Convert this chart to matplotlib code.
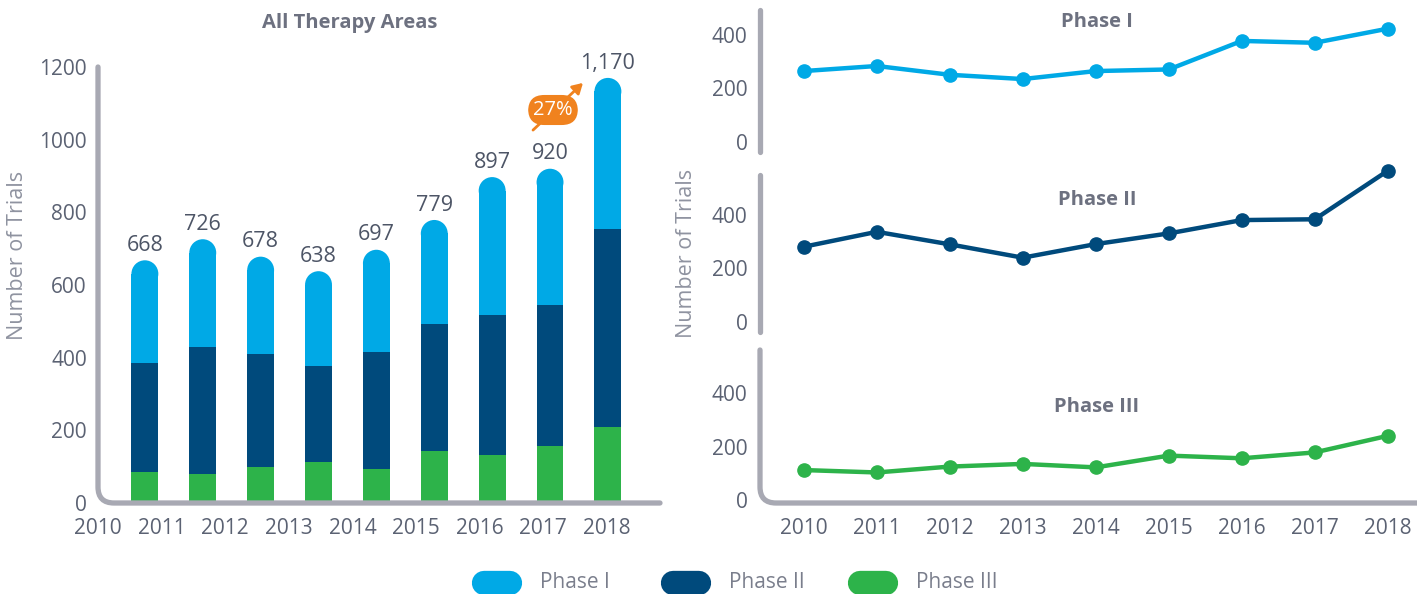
import numpy as np
import matplotlib
matplotlib.use("Agg")
import matplotlib.pyplot as plt
from matplotlib.path import Path
from matplotlib.patches import PathPatch, Ellipse
from matplotlib.lines import Line2D

plt.rcParams['font.family'] = ['Open Sans', 'DejaVu Sans']

years = [2010, 2011, 2012, 2013, 2014, 2015, 2016, 2017, 2018]
totals = [668, 726, 678, 638, 697, 779, 897, 920, 1170]
total_labels = ['668', '726', '678', '638', '697', '779', '897', '920', '1,170']
bar_phase3 = [85, 80, 99, 113, 93, 143, 132, 157, 209]
bar_phase2 = [299, 348, 311, 264, 323, 349, 386, 388, 546]
bar_phase1 = [284, 298, 268, 261, 281, 287, 379, 375, 415]

line_phase1 = [265, 284, 251, 235, 265, 271, 378, 371, 424]
line_phase2 = [281, 337, 290, 240, 291, 331, 381, 384, 566]
line_phase3 = [112, 103, 125, 135, 122, 166, 156, 178, 240]

C1 = '#00a9e6'
C2 = '#004a7c'
C3 = '#2db34a'
GREY = '#a8a9b3'
TXT = '#5b6273'
TITLE = '#6d7180'
ORANGE = '#f0821e'

W, H = 1417, 594
fig = plt.figure(figsize=(W / 100, H / 100), dpi=100)


def px_axes(x0, x1, ytop, ybot):
    return fig.add_axes([x0 / W, 1 - ybot / H, (x1 - x0) / W, (ybot - ytop) / H])


def spine_path(ax, wpx, hpx, corner=True, r=16):
    # custom grey axis line with rounded corner
    if corner:
        rx, ry = r / wpx, r / hpx
        verts = [(0, 1), (0, ry), (0, 0), (rx, 0), (1, 0)]
        codes = [Path.MOVETO, Path.LINETO, Path.CURVE3, Path.CURVE3, Path.LINETO]
    else:
        verts = [(0, 1), (0, 0)]
        codes = [Path.MOVETO, Path.LINETO]
    p = PathPatch(Path(verts, codes), transform=ax.transAxes, fill=False,
                  edgecolor=GREY, lw=3.8, capstyle='round', clip_on=False)
    ax.add_patch(p)
    for s in ax.spines.values():
        s.set_visible(False)


# ---- left: stacked bars
axL = px_axes(98, 660, 67, 503)
x = np.arange(len(years))
bw = 0.465
xlim = (-0.755, 8.9)
axL.set_xlim(*xlim)
axL.set_ylim(0, 1200)
# cap radius converted to data units
cap_h = (bw * 562 / (xlim[1] - xlim[0])) / (436 / 1200)
b3 = np.array(bar_phase3)
b2 = np.array(bar_phase2)
b1 = np.array(bar_phase1)
axL.bar(x, b3, width=bw, color=C3)
axL.bar(x, b2, width=bw, bottom=b3, color=C2)
axL.bar(x, b1 - cap_h / 2, width=bw, bottom=b3 + b2, color=C1)
for xi, top in zip(x, b1 + b2 + b3):
    axL.add_patch(Ellipse((xi, top - cap_h / 2), bw, cap_h, color=C1, lw=0))
for xi, t, lab in zip(x, totals, total_labels):
    axL.text(xi, t + 12, lab, ha='center', va='bottom', fontsize=15.5, color='#4d5566')

axL.set_yticks([0, 200, 400, 600, 800, 1000, 1200])
axL.set_xticks(np.linspace(-0.81, 7.98, 9))
axL.set_xticklabels([str(y) for y in years])
axL.tick_params(length=0, labelsize=15, colors=TXT)
axL.tick_params(axis='y', pad=8)
axL.tick_params(axis='x', pad=11)
spine_path(axL, 562, 436)
fig.text(350 / W, 1 - 23 / H, 'All Therapy Areas', ha='center', va='center', fontsize=14.5,
         fontweight='bold', color=TITLE)

fig.text(18 / W, 1 - 255 / H, 'Number of Trials', rotation=90, ha='center', va='center',
         fontsize=15.5, color='#8f93a0')

# growth annotation
axL.annotate('', xy=(585 / W, 1 - 81 / H), xycoords='figure fraction',
             xytext=(531 / W, 1 - 132 / H), textcoords='figure fraction',
             arrowprops=dict(arrowstyle='-|>,head_length=0.6,head_width=0.35',
                             color=ORANGE, lw=2))
fig.text(553 / W, 1 - 110 / H, '27%', ha='center', va='center', fontsize=14.5, color='white',
         bbox=dict(boxstyle='round,pad=0.25,rounding_size=0.8', fc=ORANGE, ec='none'))

# ---- right: three line panels
panels = [
    (10, 152, (-38.6, 494), line_phase1, C1, 'Phase I', 22, False),
    (175, 332, (-38.6, 550), line_phase2, C2, 'Phase II', 200, False),
    (350, 503, (-11.2, 561), line_phase3, C3, 'Phase III', 407, True),
]
for ytop, ybot, ylim, vals, col, title, ty, corner in panels:
    ax = px_axes(760, 1417, ytop, ybot)
    ax.set_xlim(2009.4, 2018.4)
    ax.set_ylim(*ylim)
    ax.plot(years, vals, color=col, lw=3.2, marker='o', ms=9.5, clip_on=False, zorder=3)
    ax.set_yticks([0, 200, 400])
    ax.tick_params(length=0, labelsize=15, colors=TXT)
    ax.tick_params(axis='y', pad=9)
    ax.set_xticks(years)
    if corner:
        ax.tick_params(axis='x', pad=11)
    else:
        ax.set_xticklabels([])
    spine_path(ax, 657, ybot - ytop, corner=corner)
    fig.text(1097 / W, 1 - ty / H, title, ha='center', va='center', fontsize=14.5,
             fontweight='bold', color=TITLE)

fig.text(687 / W, 1 - 253 / H, 'Number of Trials', rotation=90, ha='center', va='center',
         fontsize=15.5, color='#8f93a0')

# ---- legend pills
for cx, col, lab in [(497, C1, 'Phase I'), (686, C2, 'Phase II'), (873, C3, 'Phase III')]:
    fig.add_artist(Line2D([(cx - 13) / W, (cx + 13) / W], [1 - 583 / H] * 2,
                          transform=fig.transFigure, color=col, lw=17.5,
                          solid_capstyle='round'))
    fig.text((cx + 43) / W, 1 - 583 / H, lab, ha='left', va='center', fontsize=15,
             color='#7a7e8c')

fig.savefig('out.png', dpi=100)
